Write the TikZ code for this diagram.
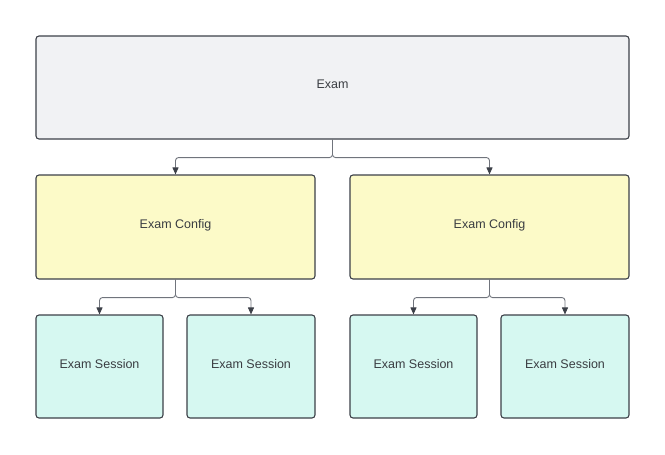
\documentclass[tikz,border=0pt]{standalone}
\usepackage{fontspec}
\setmainfont{Liberation Sans}
\usetikzlibrary{arrows.meta}
\definecolor{examfill}{HTML}{F1F2F4}
\definecolor{configfill}{HTML}{FCFAC8}
\definecolor{sessionfill}{HTML}{D6F8F1}
\definecolor{boxline}{HTML}{3C4048}
\definecolor{wirecol}{HTML}{70747C}
\definecolor{txtcol}{HTML}{3A3D42}
\begin{document}
\begin{tikzpicture}[x=1pt,y=-1pt,
    box/.style={draw=boxline,line width=1.1pt,rounded corners=3pt,inner sep=0pt,
      text=txtcol,text depth=6pt,font=\fontsize{12.5}{15}\selectfont},
    wire/.style={draw=wirecol,line width=0.9pt,rounded corners=3pt,
      -{Triangle[width=6pt,length=7pt]},arrows={[color=boxline]}}]
    \useasboundingbox (0,0) rectangle (665,455);

    \node[box,fill=examfill,minimum width=593pt,minimum height=103pt] (exam) at (332.5,87.5) {Exam};

    \node[box,fill=configfill,minimum width=279pt,minimum height=104pt] (cfg1) at (175.5,227) {Exam Config};
    \node[box,fill=configfill,minimum width=279pt,minimum height=104pt] (cfg2) at (489.5,227) {Exam Config};

    \node[box,fill=sessionfill,minimum width=127pt,minimum height=103pt] (ses1) at (99.5,366.5) {Exam Session};
    \node[box,fill=sessionfill,minimum width=128pt,minimum height=103pt] (ses2) at (251,366.5) {Exam Session};
    \node[box,fill=sessionfill,minimum width=127pt,minimum height=103pt] (ses3) at (413.5,366.5) {Exam Session};
    \node[box,fill=sessionfill,minimum width=128pt,minimum height=103pt] (ses4) at (565,366.5) {Exam Session};

    \draw[wire] (exam.south) -- ++(0,18) -| (cfg1.north);
    \draw[wire] (exam.south) -- ++(0,18) -| (cfg2.north);

    \draw[wire] (cfg1.south) -- ++(0,18) -| (ses1.north);
    \draw[wire] (cfg1.south) -- ++(0,18) -| (ses2.north);
    \draw[wire] (cfg2.south) -- ++(0,18) -| (ses3.north);
    \draw[wire] (cfg2.south) -- ++(0,18) -| (ses4.north);
\end{tikzpicture}
\end{document}
